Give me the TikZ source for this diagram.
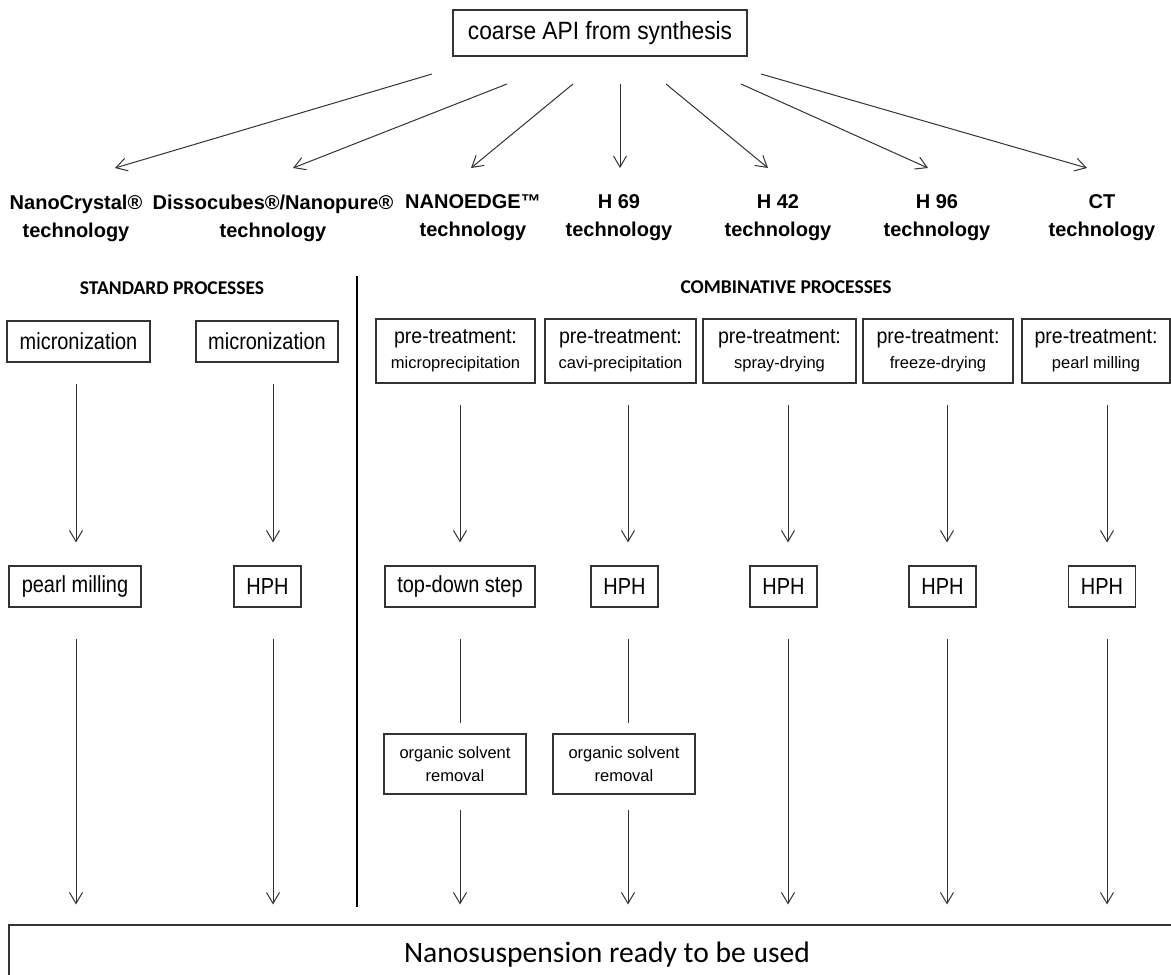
\documentclass[tikz,border=0pt]{standalone}
\usepackage{fontspec}
\setmainfont{Liberation Sans}
\newfontfamily\calib{Carlito}
\newfontfamily\narA{Liberation Sans}[FakeStretch=0.86]
\newfontfamily\narB{Liberation Sans}[FakeStretch=0.91]
\usetikzlibrary{arrows.meta,calc}
\begin{document}
\begin{tikzpicture}[x=1pt,y=-1pt,
  box/.style={draw=black!80,line width=1.1pt,inner sep=0pt,minimum height=41pt,align=center},
  big/.style={font=\narA\fontsize{23.2}{26}\selectfont},
  prebox/.style={box,minimum height=64pt,font=\fontsize{16.5}{25}\selectfont},
  orgbox/.style={box,minimum height=60pt,minimum width=142pt,font=\fontsize{16.5}{23}\selectfont},
  arr/.style={draw=black!80,line width=1pt,-{Straight Barb[length=11pt,width=13pt]}},
  ln/.style={draw=black!80,line width=1pt},
  tech/.style={align=center,font=\bfseries\fontsize{20}{28}\selectfont,inner sep=0pt},
  hdr/.style={font=\calib\bfseries\fontsize{19.5}{22}\selectfont,inner sep=0pt},
]
\useasboundingbox (0,0) rectangle (1171,975);
\fill[white] (0,0) rectangle (1171,975);

% top
\node[box,minimum width=294pt,minimum height=46pt,font=\narB\fontsize{25}{28}\selectfont] (top) at (600,33) {coarse API from synthesis};

% technologies
\node[tech] (nc)  at (76,218)   {NanoCrystal®\\technology};
\node[tech] (dc)  at (273,218)  {Dissocubes®/Nanopure®\\technology};
\node[tech] (ne)  at (473,218)  {NANOEDGE™\\technology};
\node[tech] (h69) at (619,218)  {H 69\\technology};
\node[tech] (h42) at (778,218)  {H 42\\technology};
\node[tech] (h96) at (937,218)  {H 96\\technology};
\node[tech] (ct)  at (1102,218) {CT\\technology};

\coordinate (s1) at (432,74);  \coordinate (e1) at (115,168);
\coordinate (s2) at (507,84);  \coordinate (e2) at (293,168);
\coordinate (s3) at (573,84);  \coordinate (e3) at (471,168);
\coordinate (s4) at (620,84);  \coordinate (e4) at (620,168);
\coordinate (s5) at (666,84);  \coordinate (e5) at (768,168);
\coordinate (s6) at (741,84);  \coordinate (e6) at (928,168);
\coordinate (s7) at (761,74);  \coordinate (e7) at (1087,168);
\foreach \i in {1,...,7} {\draw[arr] (s\i) -- (e\i);}

% headers and divider
\node[hdr] (std)  at (172,288) {STANDARD PROCESSES};
\node[hdr] (comb) at (786,287) {COMBINATIVE PROCESSES};
\coordinate (dvt) at (357,276);
\coordinate (dvb) at (357,907);
\draw[line width=1.6pt] (dvt) -- (dvb);

% row 1
\node[box,big,minimum width=143pt] (mic1) at (78.5,341.5) {micronization};
\node[box,big,minimum width=142pt] (mic2) at (267,341.5) {micronization};
\node[prebox,minimum width=159pt] (pre1) at (455.5,351) {{\narB\fontsize{21.5}{25}\selectfont pre-treatment:}\\microprecipitation};
\node[prebox,minimum width=151pt] (pre2) at (620.5,351) {{\narB\fontsize{21.5}{25}\selectfont pre-treatment:}\\cavi-precipitation};
\node[prebox,minimum width=153pt] (pre3) at (779.5,351) {{\narB\fontsize{21.5}{25}\selectfont pre-treatment:}\\spray-drying};
\node[prebox,minimum width=150pt] (pre4) at (938,351)   {{\narB\fontsize{21.5}{25}\selectfont pre-treatment:}\\freeze-drying};
\node[prebox,minimum width=148pt] (pre5) at (1096,351)  {{\narB\fontsize{21.5}{25}\selectfont pre-treatment:}\\pearl milling};

% row 2
\node[box,big,minimum width=132pt] (pearl) at (75,586.5)   {pearl milling};
\node[box,big,minimum width=67pt]  (hph1)  at (267.5,586.5) {HPH};
\node[box,big,minimum width=150pt] (td)    at (460,586.5)  {top-down step};
\node[box,big,minimum width=67pt]  (hph2)  at (624.5,586.5) {HPH};
\node[box,big,minimum width=67pt]  (hph3)  at (783.5,586.5) {HPH};
\node[box,big,minimum width=67pt]  (hph4)  at (942.5,586.5) {HPH};
\node[box,big,minimum width=67pt]  (hph5)  at (1102,586.5) {HPH};

% row 3
\node[orgbox] (org1) at (455,764) {organic solvent\\removal};
\node[orgbox] (org2) at (624,764) {organic solvent\\removal};

% bottom
\node[box,minimum width=1196pt,minimum height=60pt,font=\calib\fontsize{29.6}{32}\selectfont] (nano) at (607,955) {Nanosuspension ready to be used};

% column coordinates
\coordinate (k1) at (76,0);
\coordinate (k2) at (273,0);
\coordinate (k3) at (460,0);
\coordinate (k4) at (628,0);
\coordinate (k5) at (788,0);
\coordinate (k6) at (947,0);
\coordinate (k7) at (1107,0);

% row1 -> row2
\draw[arr,shorten <=21pt,shorten >=23pt] (k1 |- mic1.south) -- (k1 |- pearl.north);
\draw[arr,shorten <=21pt,shorten >=23pt] (k2 |- mic2.south) -- (k2 |- hph1.north);
\draw[arr,shorten <=21pt,shorten >=23pt] (k3 |- pre1.south) -- (k3 |- td.north);
\draw[arr,shorten <=21pt,shorten >=23pt] (k4 |- pre2.south) -- (k4 |- hph2.north);
\draw[arr,shorten <=21pt,shorten >=23pt] (k5 |- pre3.south) -- (k5 |- hph3.north);
\draw[arr,shorten <=21pt,shorten >=23pt] (k6 |- pre4.south) -- (k6 |- hph4.north);
\draw[arr,shorten <=21pt,shorten >=23pt] (k7 |- pre5.south) -- (k7 |- hph5.north);

% row2 -> bottom
\draw[arr,shorten <=31pt,shorten >=20pt] (k1 |- pearl.south) -- (k1 |- nano.north);
\draw[arr,shorten <=31pt,shorten >=20pt] (k2 |- hph1.south) -- (k2 |- nano.north);
\draw[ln,shorten <=31pt,shorten >=10pt] (k3 |- td.south) -- (k3 |- org1.north);
\draw[ln,shorten <=31pt,shorten >=10pt] (k4 |- hph2.south) -- (k4 |- org2.north);
\draw[arr,shorten <=15pt,shorten >=20pt] (k3 |- org1.south) -- (k3 |- nano.north);
\draw[arr,shorten <=15pt,shorten >=20pt] (k4 |- org2.south) -- (k4 |- nano.north);
\draw[arr,shorten <=31pt,shorten >=20pt] (k5 |- hph3.south) -- (k5 |- nano.north);
\draw[arr,shorten <=31pt,shorten >=20pt] (k6 |- hph4.south) -- (k6 |- nano.north);
\draw[arr,shorten <=31pt,shorten >=20pt] (k7 |- hph5.south) -- (k7 |- nano.north);
\end{tikzpicture}
\end{document}
